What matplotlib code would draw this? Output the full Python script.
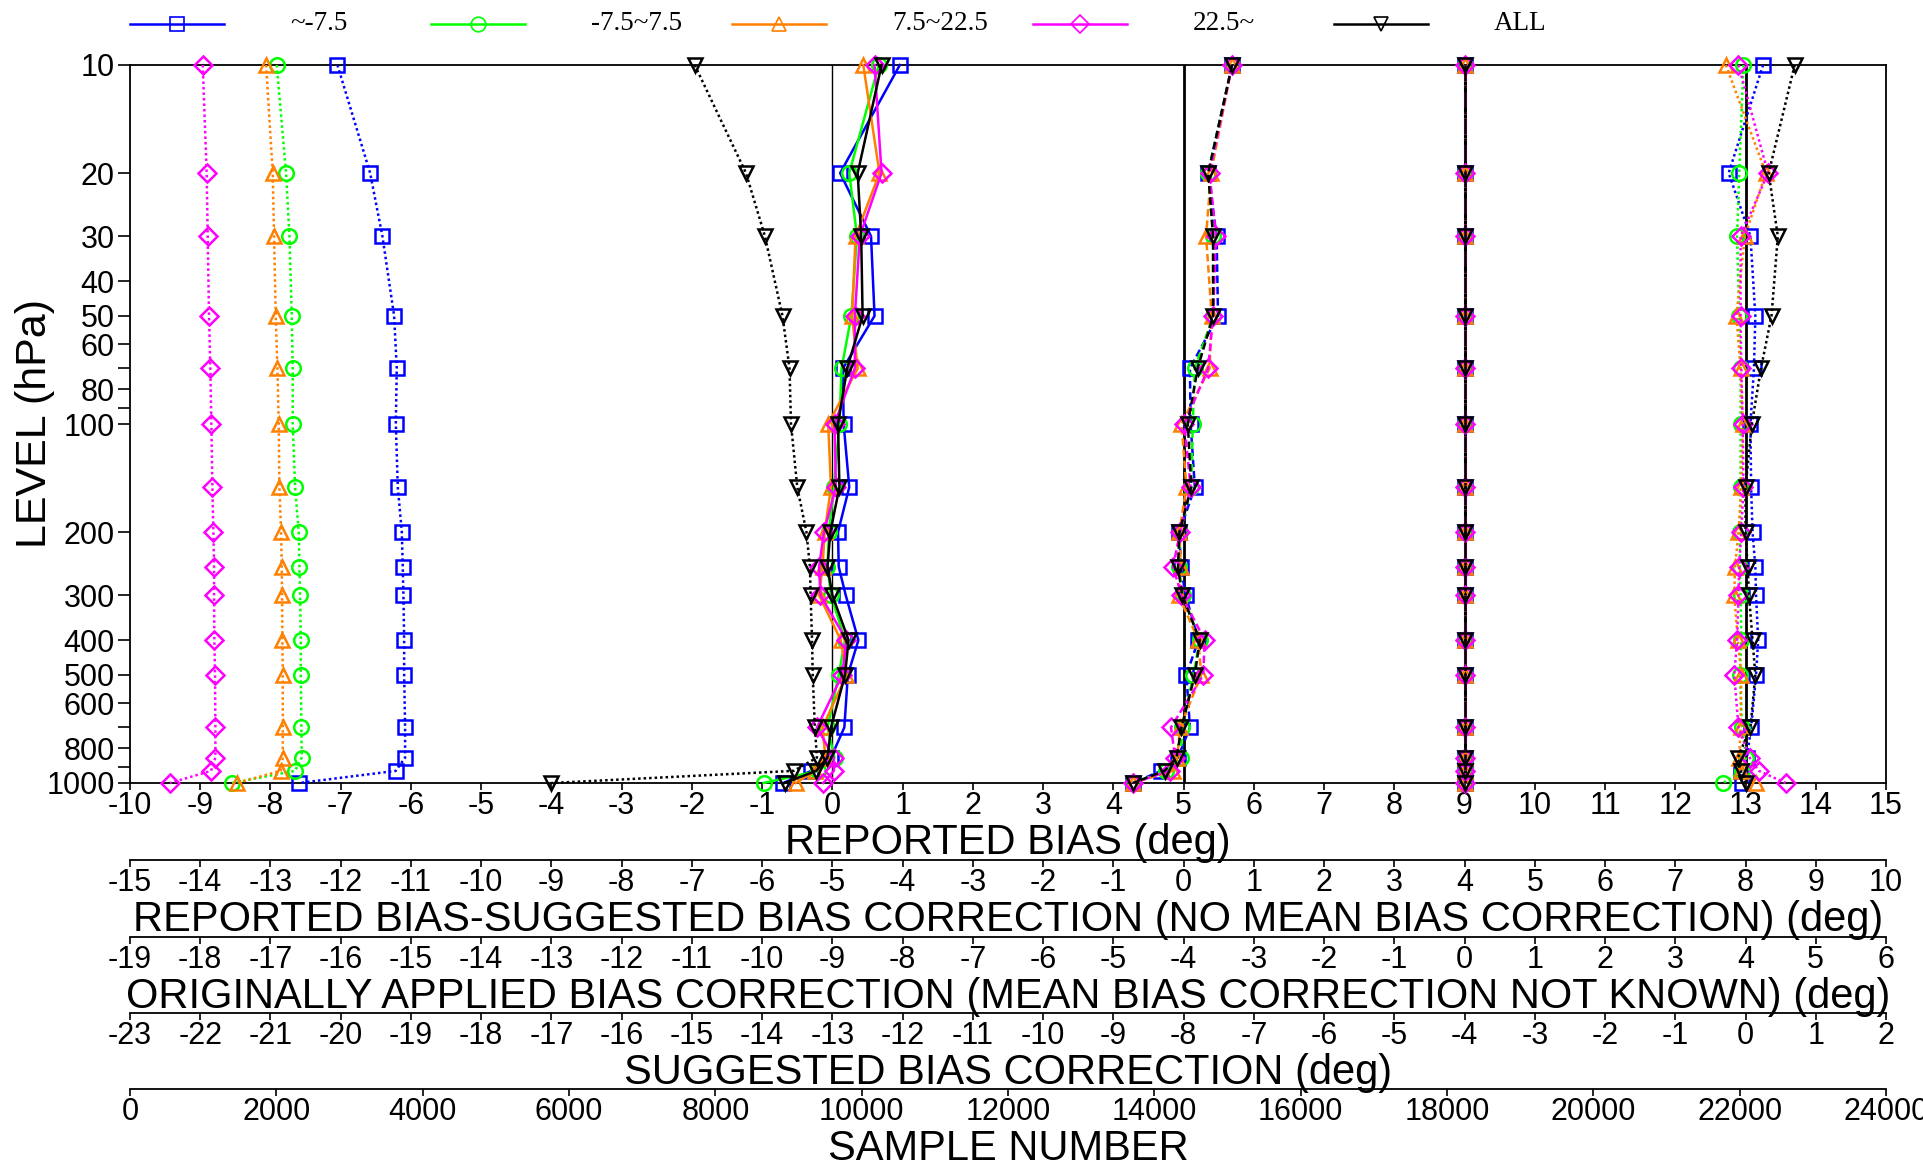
import matplotlib.pyplot as plt
from matplotlib.lines import Line2D
from matplotlib.ticker import NullLocator

plt.rcParams['font.family'] = ['Liberation Sans', 'DejaVu Sans']
plt.rcParams['axes.unicode_minus'] = False

# pressure levels (hPa)
levels = [10, 20, 30, 50, 70, 100, 150, 200, 250, 300, 400, 500, 700, 850, 925, 1000]

groups = ['~-7.5', '-7.5~7.5', '7.5~22.5', '22.5~', 'ALL']
colors = ['#0000ff', '#00ff00', '#ff8000', '#ff00ff', '#000000']
markers = ['s', 'o', '^', 'D', 'v']

# one row per group, order as in groups
reported_bias = [
    [0.96, 0.11, 0.55, 0.60, 0.15, 0.16, 0.24, 0.08, 0.09, 0.19, 0.37, 0.22, 0.17, -0.02, -0.30, -0.70],
    [0.66, 0.24, 0.35, 0.27, 0.13, 0.10, 0.02, -0.05, -0.07, -0.02, 0.18, 0.09, -0.07, 0.03, -0.20, -0.98],
    [0.44, 0.67, 0.33, 0.28, 0.36, -0.06, -0.02, -0.11, -0.14, -0.19, 0.12, 0.20, -0.14, -0.10, -0.25, -0.52],
    [0.60, 0.70, 0.39, 0.32, 0.32, 0.03, 0.05, -0.12, -0.19, -0.17, 0.20, 0.14, -0.22, 0.02, 0.02, -0.13],
    [0.70, 0.36, 0.41, 0.43, 0.21, 0.08, 0.10, -0.03, -0.07, 0.00, 0.23, 0.18, -0.02, -0.07, -0.23, -0.68],
]

bias_minus_suggested = [
    [0.69, 0.35, 0.47, 0.49, 0.09, 0.10, 0.16, -0.06, -0.04, 0.03, 0.21, 0.04, 0.09, -0.08, -0.32, -0.72],
    [0.69, 0.35, 0.42, 0.42, 0.16, 0.13, 0.11, -0.05, -0.07, -0.01, 0.23, 0.14, -0.02, -0.04, -0.25, -0.72],
    [0.69, 0.39, 0.32, 0.40, 0.37, -0.03, 0.04, -0.06, -0.04, -0.07, 0.21, 0.25, -0.05, -0.09, -0.15, -0.72],
    [0.69, 0.37, 0.46, 0.42, 0.35, 0.01, 0.10, -0.05, -0.15, -0.03, 0.30, 0.28, -0.18, -0.12, -0.20, -0.72],
    [0.69, 0.35, 0.42, 0.42, 0.20, 0.06, 0.11, -0.06, -0.08, -0.02, 0.23, 0.16, -0.03, -0.10, -0.27, -0.72],
]

applied_correction = [
    [0.0] * 16,
    [0.0] * 16,
    [0.0] * 16,
    [0.0] * 16,
    [0.0] * 16,
]

suggested_correction = [
    [0.25, -0.24, 0.07, 0.14, 0.12, 0.07, 0.08, 0.10, 0.14, 0.15, 0.18, 0.15, 0.08, 0.02, -0.06, -0.05],
    [-0.03, -0.09, -0.12, -0.09, -0.07, -0.07, -0.07, -0.08, -0.08, -0.07, -0.06, -0.08, -0.05, 0.01, -0.05, -0.32],
    [-0.28, 0.29, -0.01, -0.13, -0.07, -0.04, -0.06, -0.10, -0.15, -0.16, -0.11, -0.06, -0.07, -0.09, -0.06, 0.15],
    [-0.10, 0.32, -0.07, -0.07, -0.06, -0.04, -0.03, -0.06, -0.09, -0.10, -0.12, -0.16, -0.10, 0.06, 0.19, 0.57],
    [0.70, 0.33, 0.46, 0.37, 0.22, 0.09, 0.00, 0.00, 0.03, 0.05, 0.10, 0.14, 0.07, -0.11, -0.07, 0.00],
]

sample_number = [
    [2835, 3282, 3450, 3610, 3646, 3633, 3660, 3715, 3728, 3737, 3747, 3747, 3760, 3760, 3633, 2315],
    [2005, 2133, 2179, 2211, 2224, 2224, 2256, 2306, 2315, 2325, 2334, 2334, 2343, 2347, 2256, 1395],
    [1860, 1951, 1969, 1992, 2015, 2033, 2042, 2065, 2074, 2078, 2083, 2088, 2088, 2088, 2060, 1459],
    [994, 1048, 1062, 1080, 1098, 1112, 1126, 1140, 1149, 1149, 1153, 1162, 1167, 1167, 1108, 547],
    [7718, 8419, 8678, 8918, 9014, 9034, 9120, 9245, 9293, 9302, 9322, 9331, 9360, 9389, 9072, 5760],
]

ytick_vals = [10, 20, 30, 40, 50, 60, 70, 80, 90, 100, 200, 300, 400, 500, 600, 700, 800, 900, 1000]
ytick_labels = ['10', '20', '30', '40', '50', '60', '', '80', '', '100', '200', '300', '400',
                '500', '600', '', '800', '', '1000']

W, H = 1924, 1166
L, R, T, B = 130, 1886, 65, 783
TICK = 22
LAB = 30
LW = 1.8
MS = 10.5

fig = plt.figure(figsize=(W / 100, H / 100), dpi=100)
ax = fig.add_axes([L / W, 1 - B / H, (R - L) / W, (B - T) / H])
ax.set_yscale('log')
ax.set_ylim(1000, 10)
ax.set_xlim(-10, 15)
ax.set_xticks(range(-10, 16))
ax.set_yticks(ytick_vals)
ax.set_yticklabels(ytick_labels)
ax.yaxis.set_minor_locator(NullLocator())
ax.tick_params(axis='x', labelsize=TICK, length=5, width=1.2, pad=1)
ax.tick_params(axis='y', labelsize=TICK, length=9, width=1.2, pad=2)
ax.set_xlabel('REPORTED BIAS (deg)', fontsize=LAB, labelpad=1)
ax.set_ylabel('LEVEL (hPa)', fontsize=31, labelpad=-6)
for s in ax.spines.values():
    s.set_linewidth(1.3)
ax.axvline(0, color='k', lw=1.0, zorder=1)


def plot_group(a, data, ls, zero_lw=None):
    if zero_lw:
        a.axvline(0, color='k', lw=zero_lw, zorder=1)
    for vals, c, m in zip(data, colors, markers):
        a.plot(vals, levels, color=c, ls=ls, lw=LW, marker=m, ms=MS if m != 'D' else 9,
               mfc='none', mec=c, mew=LW, clip_on=False, zorder=3)


def make_twin(xlim, ticks, offset_px, label):
    t = ax.twiny()
    t.set_xlim(*xlim)
    for s in ['top', 'left', 'right']:
        t.spines[s].set_visible(False)
    t.spines['bottom'].set_visible(True)
    t.spines['bottom'].set_linewidth(1.3)
    t.spines['bottom'].set_position(('axes', -offset_px / (B - T)))
    t.xaxis.set_ticks_position('bottom')
    t.xaxis.set_label_position('bottom')
    t.set_xticks(ticks)
    t.tick_params(axis='x', labelsize=TICK, length=5, width=1.2, pad=1)
    t.set_xlabel(label, fontsize=LAB, labelpad=1)
    return t


plot_group(ax, reported_bias, '-')

ax_rs = make_twin((-15, 10), range(-15, 11), 77,
                  'REPORTED BIAS-SUGGESTED BIAS CORRECTION (NO MEAN BIAS CORRECTION) (deg)')
plot_group(ax_rs, bias_minus_suggested, (0, (3, 1.5)), zero_lw=2.0)

ax_ap = make_twin((-19, 6), range(-19, 7), 154,
                  'ORIGINALLY APPLIED BIAS CORRECTION (MEAN BIAS CORRECTION NOT KNOWN) (deg)')
plot_group(ax_ap, applied_correction, '-.', zero_lw=2.2)

ax_sg = make_twin((-23, 2), range(-23, 3), 230, 'SUGGESTED BIAS CORRECTION (deg)')
plot_group(ax_sg, suggested_correction, (0, (1, 1.2)), zero_lw=2.0)

ax_n = make_twin((0, 24000), range(0, 24001, 2000), 306, 'SAMPLE NUMBER')
plot_group(ax_n, sample_number, (0, (1, 1.2)))

# legend across the top
for i, (g, c, m) in enumerate(zip(groups, colors, markers)):
    x0 = 130 + 301 * i
    y = 1 - 24 / H
    fig.add_artist(Line2D([x0 / W, (x0 + 94) / W], [y, y], color=c, lw=LW,
                          transform=fig.transFigure))
    fig.add_artist(Line2D([(x0 + 47) / W], [y], color=c, marker=m, ms=MS if m != 'D' else 9,
                          mfc='none', mec=c, mew=1.2, transform=fig.transFigure))
    fig.text((x0 + 160) / W, y, g, fontsize=19.5, family=['Liberation Serif', 'DejaVu Serif'],
             va='center', ha='left')

fig.savefig('out.png', dpi=100)
